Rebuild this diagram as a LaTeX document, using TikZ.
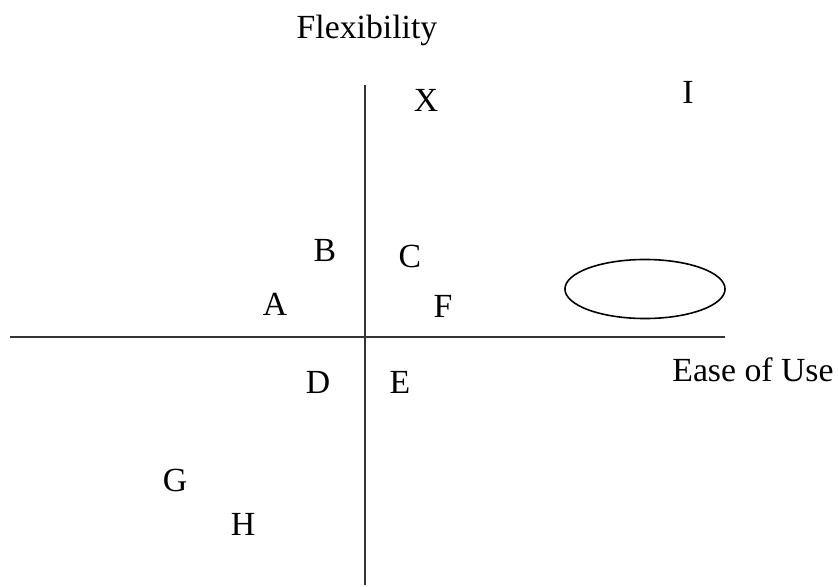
\documentclass[tikz,border=0pt]{standalone}
\usepackage{fontspec}
\setmainfont{Liberation Serif}
\usetikzlibrary{shapes.geometric}

\begin{document}
\begin{tikzpicture}[x=0.01cm,y=-0.01cm,
   lbl/.style={font=\fontsize{9.6}{11}\selectfont,inner sep=0pt},
   axis/.style={draw=black!80,line width=0.45pt}]
   \path[use as bounding box] (0,0) rectangle (838,587);
   % axes
   \coordinate (yt) at (365, 85);
   \coordinate (yb) at (365,585);
   \coordinate (xl) at ( 10,337);
   \coordinate (xr) at (725,337);
   \draw[axis] (yt) -- (yb);
   \draw[axis] (xl) -- (xr);
   \node[lbl] (flex) at (367, 30) {Flexibility};
   \node[lbl] (ease) at (753,370) {Ease of Use};
   % points
   \node[lbl] (X) at (426,100) {X};
   \node[lbl] (I) at (688, 92) {I};
   \node[lbl] (B) at (325,250) {B};
   \node[lbl] (C) at (410,256) {C};
   \node[lbl] (A) at (275,304) {A};
   \node[lbl] (F) at (443,306) {F};
   \node[lbl] (D) at (318,382) {D};
   \node[lbl] (E) at (400,382) {E};
   \node[lbl] (G) at (175,480) {G};
   \node[lbl] (H) at (243,524) {H};
   \node[ellipse,draw,line width=0.45pt,minimum width=1.6cm,minimum height=0.59cm,inner sep=0pt]
      (blob) at (645,289) {};
\end{tikzpicture}
\end{document}
